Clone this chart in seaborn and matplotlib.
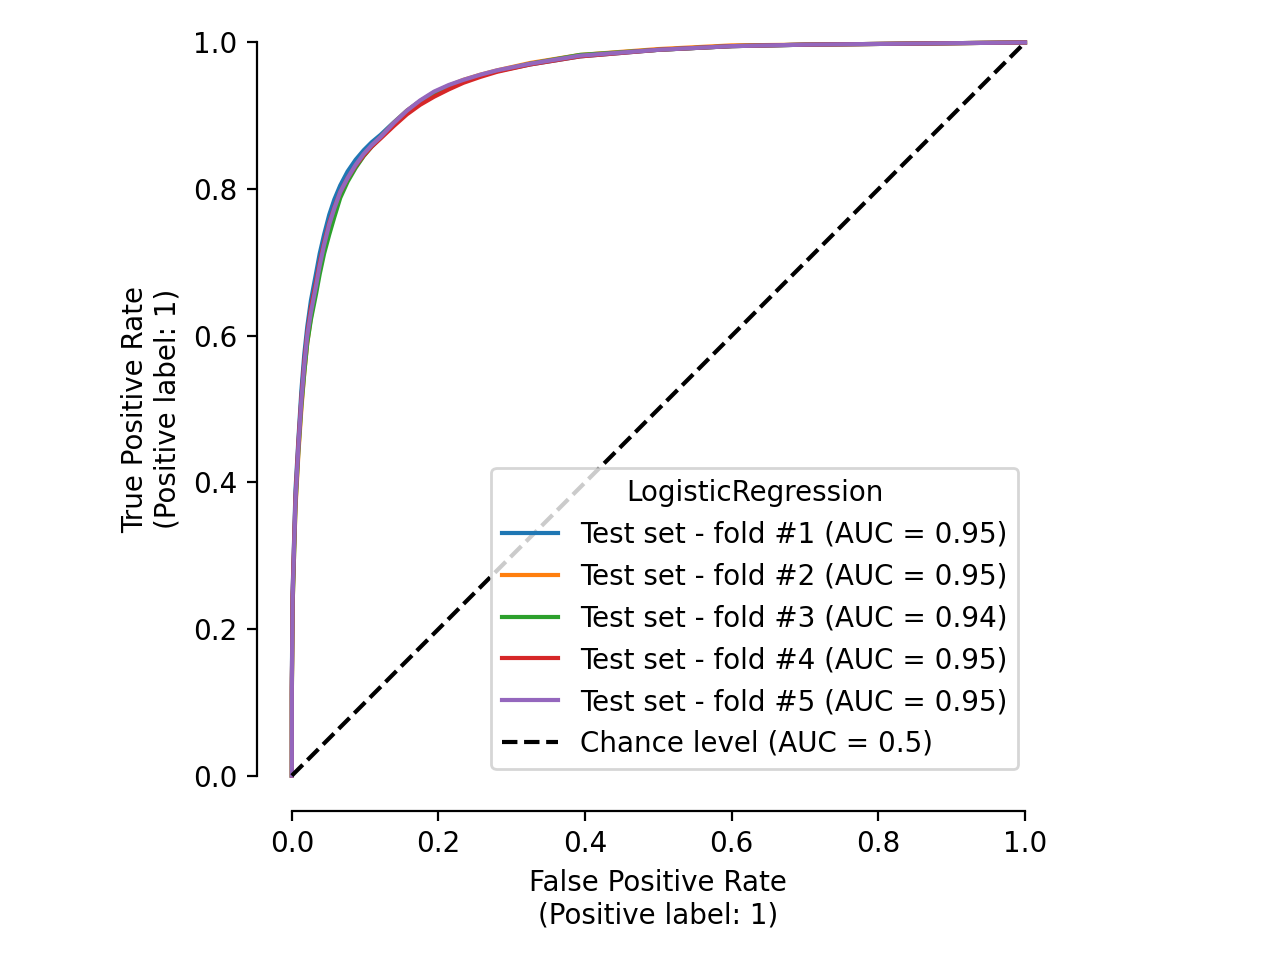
import pandas as pd
import matplotlib.pyplot as plt
import seaborn as sns

# ROC points (shared FPR grid, one TPR list per fold)
fpr = [0.0, 0.0, 0.001, 0.003, 0.005, 0.009, 0.013, 0.017, 0.021, 0.026, 0.033,
       0.038, 0.044, 0.051, 0.058, 0.066, 0.076, 0.087, 0.098, 0.109, 0.121,
       0.139, 0.157, 0.175, 0.194, 0.214, 0.234, 0.257, 0.280, 0.325,
       0.393, 0.50, 0.60, 0.70, 0.80, 0.90, 1.0]

tpr_fold1 = [0.0, 0.13, 0.25, 0.32, 0.39, 0.46, 0.525, 0.575, 0.612, 0.648, 0.685,
             0.712, 0.738, 0.765, 0.786, 0.805, 0.824, 0.840, 0.853, 0.864, 0.874,
             0.891, 0.907, 0.920, 0.931, 0.940, 0.948, 0.955, 0.961, 0.970,
             0.981, 0.990, 0.995, 0.997, 0.998, 0.999, 1.0]
tpr_fold2 = [0.0, 0.11, 0.23, 0.30, 0.365, 0.44, 0.50, 0.55, 0.59, 0.625, 0.665,
             0.694, 0.722, 0.750, 0.772, 0.794, 0.814, 0.831, 0.846, 0.859, 0.871,
             0.890, 0.907, 0.920, 0.932, 0.941, 0.949, 0.956, 0.962, 0.972,
             0.983, 0.991, 0.996, 0.997, 0.998, 0.999, 1.0]
tpr_fold3 = [0.0, 0.11, 0.23, 0.30, 0.37, 0.445, 0.505, 0.55, 0.59, 0.622, 0.657,
             0.684, 0.712, 0.738, 0.762, 0.788, 0.810, 0.829, 0.845, 0.858, 0.870,
             0.889, 0.906, 0.919, 0.931, 0.940, 0.948, 0.955, 0.961, 0.971,
             0.983, 0.990, 0.995, 0.997, 0.998, 0.999, 1.0]
tpr_fold4 = [0.0, 0.12, 0.245, 0.315, 0.38, 0.455, 0.515, 0.565, 0.603, 0.638, 0.673,
             0.700, 0.727, 0.754, 0.775, 0.796, 0.815, 0.832, 0.846, 0.858, 0.869,
             0.886, 0.902, 0.915, 0.926, 0.936, 0.945, 0.953, 0.960, 0.970,
             0.981, 0.990, 0.995, 0.997, 0.998, 0.999, 1.0]
tpr_fold5 = [0.0, 0.12, 0.24, 0.31, 0.376, 0.45, 0.512, 0.56, 0.60, 0.632, 0.668,
             0.696, 0.724, 0.752, 0.774, 0.796, 0.815, 0.833, 0.848, 0.860, 0.871,
             0.890, 0.907, 0.921, 0.933, 0.942, 0.949, 0.956, 0.962, 0.971,
             0.982, 0.990, 0.995, 0.997, 0.998, 0.999, 1.0]

auc_values = [0.95, 0.95, 0.94, 0.95, 0.95]
folds = [tpr_fold1, tpr_fold2, tpr_fold3, tpr_fold4, tpr_fold5]

rows = []
for i, (tpr, auc) in enumerate(zip(folds, auc_values)):
    label = f"Test set - fold #{i + 1} (AUC = {auc:.2f})"
    for x, y in zip(fpr, tpr):
        rows.append({"fpr": x, "tpr": y, "fold": label})
df = pd.DataFrame(rows)

fig = plt.figure(figsize=(6.4, 4.8), dpi=200)
ax = fig.add_axes([0.2219, 0.1844, 0.585, 0.779])

sns.lineplot(data=df, x="fpr", y="tpr", hue="fold", palette="tab10",
             estimator=None, sort=False, units="fold", linewidth=1.5, ax=ax)
ax.plot([0, 1], [0, 1], "k--", linewidth=1.5, label="Chance level (AUC = 0.5)")

ax.set_xlim(-0.01, 1.01)
ax.set_ylim(-0.01, 1.01)
ax.set_aspect("equal")
ax.set_xlabel("False Positive Rate\n(Positive label: 1)")
ax.set_ylabel("True Positive Rate\n(Positive label: 1)")
ax.set_xticks([0, 0.2, 0.4, 0.6, 0.8, 1.0])
ax.set_yticks([0, 0.2, 0.4, 0.6, 0.8, 1.0])
ax.legend(title="LogisticRegression", loc="lower right")
sns.despine(ax=ax, offset=10, trim=True)

plt.savefig("out.png", dpi=200)
